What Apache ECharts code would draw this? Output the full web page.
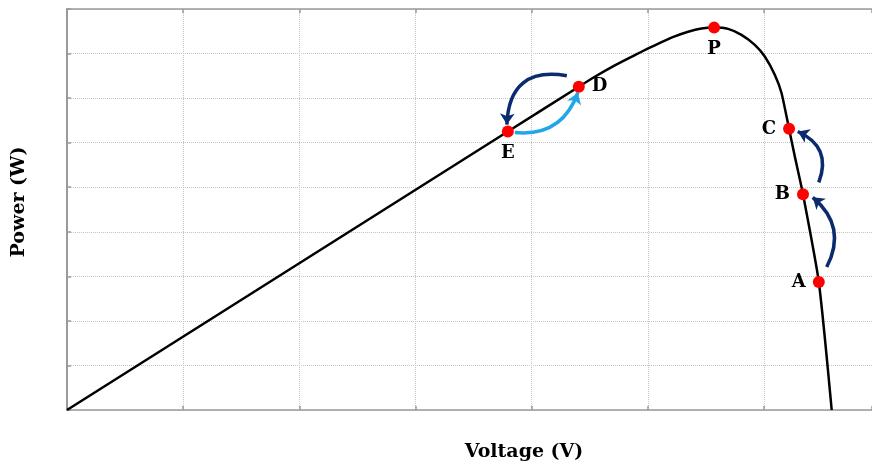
<!DOCTYPE html>
<html>
<head>
<meta charset="utf-8">
<script src="https://cdn.jsdelivr.net/npm/echarts@6/dist/echarts.min.js"></script>
<style>
  html, body { margin: 0; padding: 0; background: #ffffff; }
  #chart { width: 872px; height: 467px; }
</style>
</head>
<body>
<div id="chart"></div>
<script>
// P-V curve (arbitrary units)
const voltage = [0, 3.795, 4.406, 4.544, 4.716, 4.888, 5.003, 5.118, 5.232, 5.347, 5.462, 5.571, 5.691, 5.806, 5.921, 6.007, 6.093, 6.151, 6.216, 6.265, 6.336, 6.472, 6.583];
const power   = [0, 6.25, 7.256, 7.480, 7.735, 7.965, 8.115, 8.255, 8.385, 8.490, 8.560, 8.582, 8.553, 8.419, 8.196, 7.934, 7.525, 7.115, 6.310, 5.698, 4.841, 2.873, 0];

// operating points
const pointNames = ['A', 'B', 'C', 'D', 'E', 'P'];
const pointV = [6.472, 6.336, 6.216, 4.406, 3.795, 5.571];
const pointP = [2.873, 4.841, 6.310, 7.256, 6.25, 8.582];

// arrows: [fromV, fromP] -> [toV, toP]
const arrowFrom = [[6.540, 3.209], [6.472, 5.109], [4.303, 7.502], [3.855, 6.228]];
const arrowTo   = [[6.420, 4.774], [6.291, 6.250], [3.787, 6.406], [4.398, 7.122]];

const xMin = 0, xMax = 6.93, xStep = 1;
const yMin = 0, yMax = 9, yStep = 1;

const labelPos = { A: 'left', B: 'left', C: 'left', D: 'right', E: 'bottom', P: 'bottom' };
const arrowColor = ['#0b2b6e', '#0b2b6e', '#0b2b6e', '#22a6ea'];
const arrowCurve = [-0.4, -0.47, -0.57, -0.39];

const chart = echarts.init(document.getElementById('chart'));
const gridColor = '#c4c4c4';
const axisColor = '#9a9a9a';
const serif = '"DejaVu Serif", "Liberation Serif", serif';

const commonX = {
  type: 'value', min: xMin, max: xMax, interval: xStep,
  axisLabel: { show: false },
  axisTick: { show: true, inside: true, length: 4, lineStyle: { color: axisColor, width: 1.5 } }
};

chart.setOption({
  animation: false,
  backgroundColor: '#ffffff',
  grid: { left: 67, top: 9, bottom: 55.5, right: 0, show: false },
  xAxis: [
    Object.assign({}, commonX, {
      position: 'bottom',
      axisLine: { show: true, lineStyle: { color: axisColor, width: 1.5 } },
      splitLine: { show: true, lineStyle: { color: gridColor, type: 'dotted', width: 1 } },
      name: 'Voltage (V)', nameLocation: 'middle', nameGap: 33,
      nameTextStyle: { fontFamily: serif, fontWeight: 'bold', fontSize: 19, color: '#000', padding: [0, 0, 0, 109] }
    }),
    Object.assign({}, commonX, {
      position: 'top',
      axisLine: { show: true, lineStyle: { color: axisColor, width: 1.5 } },
      splitLine: { show: false }
    })
  ],
  yAxis: {
    type: 'value', min: yMin, max: yMax, interval: yStep,
    axisLabel: { show: false },
    axisLine: { show: true, lineStyle: { color: axisColor, width: 2 } },
    axisTick: { show: true, inside: true, length: 4, lineStyle: { color: axisColor, width: 1.5 } },
    splitLine: { show: true, lineStyle: { color: gridColor, type: 'dotted', width: 1 } },
    name: 'Power (W)', nameLocation: 'middle', nameRotate: 90, nameGap: 38,
    nameTextStyle: { fontFamily: serif, fontWeight: 'bold', fontSize: 19, color: '#000', padding: [0, 0, 0, 15] }
  },
  series: [
    {
      type: 'line',
      data: voltage.map((v, i) => [v, power[i]]),
      smooth: 0.2,
      showSymbol: false,
      lineStyle: { color: '#000', width: 2.5 },
      z: 2
    },
    {
      type: 'lines',
      coordinateSystem: 'cartesian2d',
      symbol: ['none', 'arrow'],
      symbolSize: 11,
      data: arrowFrom.map((f, i) => ({
        coords: [f, arrowTo[i]],
        lineStyle: { color: arrowColor[i], width: 3.5, curveness: arrowCurve[i], opacity: 1 }
      })),
      z: 3
    },
    {
      type: 'scatter',
      symbolSize: 12,
      itemStyle: { color: '#ff0000', opacity: 1 },
      data: pointNames.map((n, i) => ({
        name: n, value: [pointV[i], pointP[i]],
        label: { show: true, position: labelPos[n], distance: 7, formatter: n,
          fontFamily: serif, fontWeight: 'bold', fontSize: 18, color: '#000' }
      })),
      z: 4
    }
  ]
});
</script>
</body>
</html>
